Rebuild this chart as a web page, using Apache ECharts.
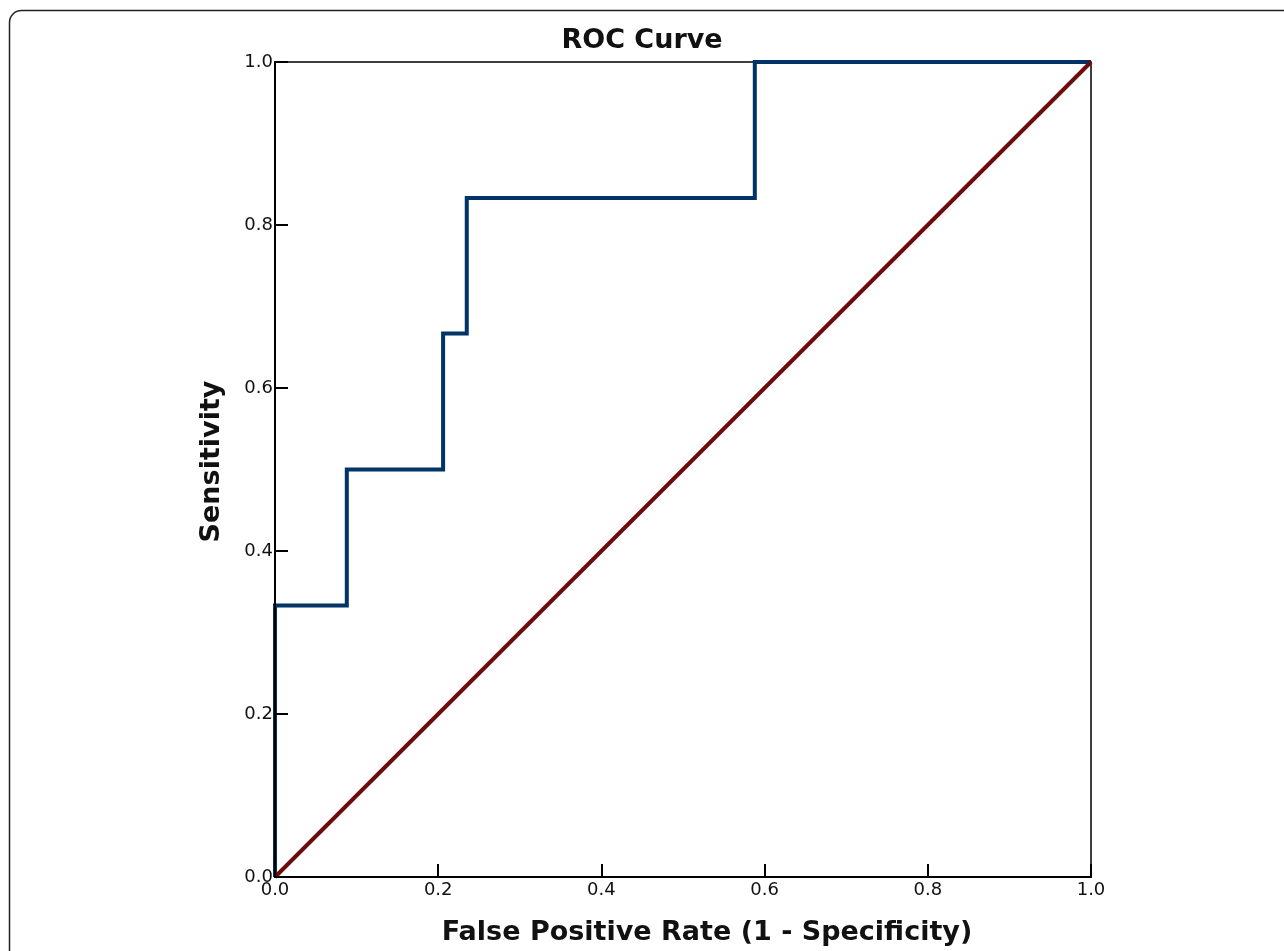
<!DOCTYPE html>
<html>
<head>
<meta charset="utf-8">
<script src="https://cdn.jsdelivr.net/npm/echarts@6/dist/echarts.min.js"></script>
<style>
html,body{margin:0;padding:0;background:#fff;}
#chart{width:1284px;height:951px;}
</style>
</head>
<body>
<div id="chart"></div>
<script>
const titleText = "ROC Curve";
const xAxisTitle = "False Positive Rate (1 - Specificity)";
const yAxisTitle = "Sensitivity";
const fpr = [0, 0, 0.088, 0.088, 0.206, 0.206, 0.235, 0.235, 0.588, 0.588, 1];
const tpr = [0, 0.333, 0.333, 0.5, 0.5, 0.667, 0.667, 0.833, 0.833, 1, 1];
const refX = [0, 1];
const refY = [0, 1];

const rocData = fpr.map((x, i) => [x, tpr[i]]);
const refData = refX.map((x, i) => [x, refY[i]]);

const chart = echarts.init(document.getElementById('chart'), null, {renderer: 'canvas'});
const fontFam = 'DejaVu Sans';
chart.setOption({
  animation: false,
  backgroundColor: '#fff',
  title: {
    text: titleText, left: 'center', top: 22,
    textStyle: {fontFamily: fontFam, fontWeight: 'bold', fontSize: 27, color: '#111'}
  },
  graphic: [{
    type: 'rect', silent: true, z: 0,
    shape: {x: 9.5, y: 10.5, width: 1400, height: 1100, r: 12},
    style: {fill: 'none', stroke: '#222', lineWidth: 1.5}
  }],
  grid: {
    left: 275, right: 193, top: 62, bottom: 74,
    show: true, borderColor: '#000', borderWidth: 1.5, backgroundColor: 'transparent'
  },
  xAxis: {
    type: 'value', min: 0, max: 1, interval: 0.2, z: 3,
    name: xAxisTitle, nameLocation: 'middle', nameGap: 42,
    nameTextStyle: {fontFamily: fontFam, fontWeight: 'bold', fontSize: 27, color: '#111', padding: [0, 0, 0, 48]},
    axisLine: {show: true, lineStyle: {color: '#000', width: 2}},
    axisTick: {show: true, inside: true, length: 13, lineStyle: {color: '#000', width: 2}},
    axisLabel: {margin: 4, fontFamily: fontFam, fontSize: 18, color: '#111', formatter: v => v.toFixed(1)},
    splitLine: {show: false}
  },
  yAxis: {
    type: 'value', min: 0, max: 1, interval: 0.2, z: 3,
    name: yAxisTitle, nameLocation: 'middle', nameGap: 50,
    nameTextStyle: {fontFamily: fontFam, fontWeight: 'bold', fontSize: 27, color: '#111', padding: [0, 0, 0, 16]},
    axisLine: {show: true, lineStyle: {color: '#000', width: 2}},
    axisTick: {show: true, inside: true, length: 13, lineStyle: {color: '#000', width: 2}},
    axisLabel: {margin: 2, fontFamily: fontFam, fontSize: 18, color: '#111', formatter: v => v.toFixed(1)},
    splitLine: {show: false}
  },
  series: [{
    type: 'line', data: rocData, showSymbol: false, symbol: 'none',
    lineStyle: {color: '#003366', width: 4, join: 'miter', cap: 'butt'}, z: 2
  }, {
    type: 'line', data: refData, showSymbol: false, symbol: 'none',
    lineStyle: {color: '#6e0a0a', width: 4}, z: 2
  }]
});
</script>
</body>
</html>
